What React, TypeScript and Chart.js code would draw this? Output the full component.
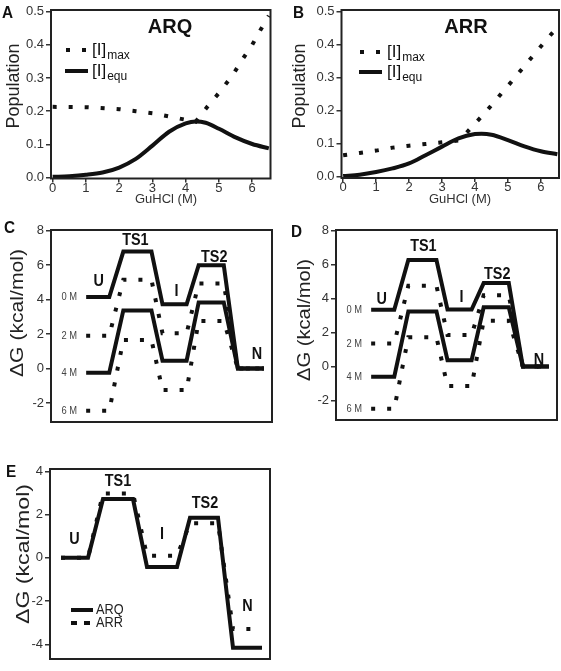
import React, { useEffect, useRef } from "react";
import { Chart, registerables } from "chart.js";
Chart.register(...registerables);

const F = "'Liberation Sans', Arial, Helvetica, sans-serif";
const INK = "#111";
const TXT = "#333";

// ---------- Panels A & B : population vs GuHCl ----------
const guhclTicks = [0, 1, 2, 3, 4, 5, 6];
const popTicks = [0, 0.1, 0.2, 0.3, 0.4, 0.5];

const arqMaxX = [0, 1, 2, 2.5, 3, 3.5, 4, 4.3, 4.65, 5, 5.4, 5.7, 6, 6.25, 6.5];
const arqMaxY = [0.213, 0.212, 0.206, 0.2, 0.194, 0.184, 0.174, 0.168, 0.213, 0.255, 0.307, 0.355, 0.4, 0.445, 0.488];
const arqEquX = [0, 0.5, 1, 1.5, 2, 2.5, 3, 3.5, 4, 4.3, 4.6, 5, 5.5, 6, 6.5];
const arqEquY = [0.002, 0.004, 0.008, 0.015, 0.03, 0.056, 0.096, 0.138, 0.163, 0.169, 0.165, 0.147, 0.121, 0.101, 0.088];

const arrMaxX = [0, 0.5, 1, 1.5, 2, 2.5, 3, 3.54, 3.9, 4.3, 4.7, 5.1, 5.5, 5.9, 6.3, 6.5];
const arrMaxY = [0.065, 0.072, 0.079, 0.088, 0.094, 0.099, 0.104, 0.11, 0.15, 0.193, 0.24, 0.287, 0.335, 0.383, 0.43, 0.452];
const arrEquX = [0, 0.5, 1, 1.5, 2, 2.5, 3, 3.5, 4, 4.2, 4.5, 5, 5.5, 6, 6.5];
const arrEquY = [0.002, 0.006, 0.014, 0.025, 0.04, 0.065, 0.091, 0.116, 0.129, 0.13, 0.127, 0.111, 0.092, 0.077, 0.068];

// ---------- Panels C, D, E : free-energy profiles ----------
const states = ["U", "TS1", "I", "TS2", "N"];
const denaturant = ["0 M", "2 M", "4 M", "6 M"];
// reaction coordinate: start/end of each state plateau
const rxnCD = [3.5, 5.8, 7.2, 10.0, 11.1, 13.5, 14.7, 17.2, 18.6, 21.2];
const rxnE = [1.1, 3.8, 5.3, 8.3, 9.7, 12.7, 14.0, 16.8, 18.3, 21.2];

const arq0M = [4.14, 6.78, 3.72, 5.99, 0];
const arq2M = [1.9, 5.15, 2.04, 4.93, 0];
const arq4M = [-0.24, 3.37, 0.45, 3.83, 0];
const arq6M = [-2.45, 1.66, -1.25, 2.76, 0];

const arr0M = [3.35, 6.28, 3.36, 4.92, 0];
const arr2M = [1.36, 4.76, 1.86, 4.2, 0];
const arr4M = [-0.6, 3.25, 0.37, 3.49, 0];
const arr6M = [-2.49, 1.73, -1.15, 2.7, 0];

const dGarq = [0, 2.72, -0.42, 1.86, -4.16];
const dGarr = [0, 2.98, 0.1, 1.6, -3.29];

const dGTicksCD = [-2, 0, 2, 4, 6, 8];
const dGTicksE = [-4, -2, 0, 2, 4];

// ---------- helpers ----------
const pairs = (xs: number[], ys: number[]) => xs.map((x, i) => ({ x, y: ys[i] }));
const expand = (rxn: number[], vals: number[]) =>
  vals.flatMap((v, i) => [{ x: rxn[2 * i], y: v }, { x: rxn[2 * i + 1], y: v }]);

const solid = (data: any[], extra: any = {}) => ({
  data, borderColor: INK, borderWidth: 4, pointRadius: 0, fill: false,
  borderCapStyle: "butt", borderJoinStyle: "miter", tension: 0, ...extra,
});
const dotted = (data: any[], extra: any = {}) =>
  solid(data, { borderDash: [4, 12], borderWidth: 4, ...extra });

type Txt = {
  t: string; px?: number; py?: number; x?: number; y?: number; dx?: number; dy?: number;
  font: string; align?: CanvasTextAlign; color?: string; sx?: number; rot?: boolean; len?: number;
  sub?: string; subFont?: string;
};
type Sample = { x0: number; x1: number; y: number; dash?: number[]; w?: number };

const annotPlugin = {
  id: "annot",
  afterDraw(chart: any, _a: any, opts: any) {
    const { ctx, chartArea: a } = chart;
    const ox = opts.ox || 0, oy = opts.oy || 0;
    ctx.save();
    ctx.strokeStyle = "#222";
    ctx.lineWidth = 2;
    ctx.setLineDash([]);
    ctx.strokeRect(a.left, a.top, a.right - a.left, a.bottom - a.top);
    (opts.samples || []).forEach((s: Sample) => {
      ctx.beginPath();
      ctx.strokeStyle = INK;
      ctx.lineWidth = s.w || 4;
      ctx.lineCap = "butt";
      ctx.setLineDash(s.dash || []);
      ctx.moveTo(s.x0 - ox, s.y - oy);
      ctx.lineTo(s.x1 - ox, s.y - oy);
      ctx.stroke();
    });
    ctx.setLineDash([]);
    (opts.texts || []).forEach((it: Txt) => {
      let X: number, Y: number;
      if (it.x !== undefined) {
        X = chart.scales.x.getPixelForValue(it.x) + (it.dx || 0);
        Y = chart.scales.y.getPixelForValue(it.y) + (it.dy || 0);
      } else {
        X = (it.px as number) - ox;
        Y = (it.py as number) - oy;
      }
      ctx.save();
      ctx.translate(X, Y);
      if (it.rot) ctx.rotate(-Math.PI / 2);
      ctx.font = it.font;
      ctx.fillStyle = it.color || TXT;
      ctx.textBaseline = "middle";
      let sx = it.sx ?? 1;
      if (it.len) sx = it.len / ctx.measureText(it.t).width;
      ctx.scale(sx, 1);
      ctx.textAlign = it.align || "center";
      ctx.fillText(it.t, 0, 0);
      if (it.sub) {
        const w = ctx.measureText(it.t).width;
        ctx.font = it.subFont || it.font;
        ctx.textAlign = "left";
        ctx.fillText(it.sub, w + 1, 6);
      }
      ctx.restore();
    });
    ctx.restore();
  },
};

type Spec = {
  id: string;
  box: { left: number; top: number; width: number; height: number };
  plot: [number, number, number, number];
  xRange: [number, number];
  yRange: [number, number];
  xTicks?: number[];
  yTicks: number[];
  yFmt: (v: number) => string;
  yFont: number;
  datasets: any[];
  texts: Txt[];
  samples: Sample[];
};

function buildConfig(s: Spec): any {
  const { box, plot } = s;
  const [pl, pt, pr, pb] = plot;
  const showX = !!s.xTicks;
  return {
    type: "line",
    data: { datasets: s.datasets },
    options: {
      responsive: false,
      animation: false,
      devicePixelRatio: 1,
      layout: {
        padding: {
          left: 0,
          top: pt - box.top,
          right: box.left + box.width - pr,
          bottom: showX ? 0 : box.top + box.height - pb,
        },
      },
      plugins: {
        legend: { display: false },
        tooltip: { enabled: false },
        annot: { ox: box.left, oy: box.top, texts: s.texts, samples: s.samples },
      },
      scales: {
        x: {
          type: "linear",
          display: showX,
          min: s.xRange[0],
          max: s.xRange[1],
          afterBuildTicks: (sc: any) => { if (s.xTicks) sc.ticks = s.xTicks.map((v) => ({ value: v })); },
          afterFit: (sc: any) => { sc.height = box.top + box.height - pb; },
          ticks: { font: { family: F, size: 13 }, color: TXT, padding: -2, maxRotation: 0, autoSkip: false, callback: (v: any) => String(v) },
          grid: { display: true, drawOnChartArea: false, drawTicks: true, tickLength: 4, color: "#333", lineWidth: 1.5 },
          border: { display: false },
        },
        y: {
          type: "linear",
          min: s.yRange[0],
          max: s.yRange[1],
          afterBuildTicks: (sc: any) => { sc.ticks = s.yTicks.map((v) => ({ value: v })); },
          afterFit: (sc: any) => { sc.width = pl - box.left; },
          ticks: { font: { family: F, size: s.yFont }, color: TXT, padding: 2, autoSkip: false, callback: (v: any) => s.yFmt(Number(v)) },
          grid: { display: true, drawOnChartArea: false, drawTicks: true, tickLength: 5, color: "#333", lineWidth: 1.5 },
          border: { display: false },
        },
      },
    },
    plugins: [annotPlugin],
  };
}

const popFmt = (v: number) => v.toFixed(1);
const intFmt = (v: number) => String(Math.round(v));

function energyTexts(rxn: number[], profiles: number[][], labelsDenat: boolean, dx: number[], dy: number[]): Txt[] {
  const out: Txt[] = [];
  states.forEach((st, i) => {
    out.push({
      t: st,
      x: (rxn[2 * i] + rxn[2 * i + 1]) / 2,
      y: Math.max(...profiles.map((p) => p[i])),
      dx: dx[i], dy: dy[i],
      font: `bold 16px ${F}`, color: INK, sx: 0.9,
    });
  });
  if (labelsDenat) {
    denaturant.forEach((d, i) => {
      out.push({ t: d, x: rxn[0], y: profiles[i][0], dx: -9, dy: 0, font: `11px ${F}`, align: "right", color: "#444", sx: 0.85 });
    });
  }
  return out;
}

const specs: Spec[] = [
  {
    id: "A",
    box: { left: 0, top: 0, width: 280, height: 215 },
    plot: [51, 10, 270.5, 178.5],
    xRange: [-0.05, 6.55],
    yRange: [-0.003, 0.505],
    xTicks: guhclTicks,
    yTicks: popTicks,
    yFmt: popFmt,
    yFont: 13,
    datasets: [
      solid(pairs(arqEquX, arqEquY), { cubicInterpolationMode: "monotone" }),
      dotted(pairs(arqMaxX, arqMaxY)),
    ],
    texts: [
      { t: "A", px: 2, py: 13, font: `bold 17px ${F}`, align: "left", color: INK, sx: 0.9 },
      { t: "ARQ", px: 170, py: 27, font: `bold 20px ${F}`, color: INK },
      { t: "[I]", sub: "max", px: 92, py: 50, font: `17px ${F}`, subFont: `12px ${F}`, align: "left", color: INK },
      { t: "[I]", sub: "equ", px: 92, py: 71, font: `17px ${F}`, subFont: `12px ${F}`, align: "left", color: INK },
      { t: "Population", px: 14, py: 86, rot: true, font: `18px ${F}`, color: "#222" },
      { t: "GuHCl (M)", px: 166, py: 199, font: `13px ${F}`, color: TXT },
    ],
    samples: [
      { x0: 66, x1: 88, y: 50, dash: [4, 12] },
      { x0: 65, x1: 88, y: 71 },
    ],
  },
  {
    id: "B",
    box: { left: 280, top: 0, width: 281, height: 215 },
    plot: [341.5, 10, 559, 178],
    xRange: [-0.05, 6.55],
    yRange: [-0.004, 0.505],
    xTicks: guhclTicks,
    yTicks: popTicks,
    yFmt: popFmt,
    yFont: 13,
    datasets: [
      solid(pairs(arrEquX, arrEquY), { cubicInterpolationMode: "monotone" }),
      dotted(pairs(arrMaxX, arrMaxY)),
    ],
    texts: [
      { t: "B", px: 293, py: 13, font: `bold 17px ${F}`, align: "left", color: INK, sx: 0.9 },
      { t: "ARR", px: 466, py: 27, font: `bold 20px ${F}`, color: INK },
      { t: "[I]", sub: "max", px: 387, py: 52, font: `17px ${F}`, subFont: `12px ${F}`, align: "left", color: INK },
      { t: "[I]", sub: "equ", px: 387, py: 72, font: `17px ${F}`, subFont: `12px ${F}`, align: "left", color: INK },
      { t: "Population", px: 300, py: 86, rot: true, font: `18px ${F}`, color: "#222" },
      { t: "GuHCl (M)", px: 460, py: 199, font: `13px ${F}`, color: TXT },
    ],
    samples: [
      { x0: 360, x1: 382, y: 52, dash: [4, 12] },
      { x0: 359, x1: 382, y: 72 },
    ],
  },
  {
    id: "C",
    box: { left: 0, top: 215, width: 280, height: 225 },
    plot: [51, 230, 272, 431],
    xRange: [0, 22],
    yRange: [-3.1, 8.03],
    yTicks: dGTicksCD,
    yFmt: intFmt,
    yFont: 13,
    datasets: [
      solid(expand(rxnCD, arq0M)),
      dotted(expand(rxnCD, arq2M)),
      solid(expand(rxnCD, arq4M)),
      dotted(expand(rxnCD, arq6M)),
    ],
    texts: [
      { t: "C", px: 4, py: 228, font: `bold 17px ${F}`, align: "left", color: INK, sx: 0.9 },
      { t: "\u0394G (kcal/mol)", px: 18, py: 313, rot: true, len: 128, font: `18px ${F}`, color: "#222" },
      ...energyTexts(rxnCD, [arq0M, arq2M, arq4M, arq6M], true, [1, -2, 2, 3, 6], [-16, -11, -13, -8, -14]),
    ],
    samples: [],
  },
  {
    id: "D",
    box: { left: 280, top: 215, width: 281, height: 225 },
    plot: [336, 230, 557, 430],
    xRange: [0, 22],
    yRange: [-3.15, 8.05],
    yTicks: dGTicksCD,
    yFmt: intFmt,
    yFont: 13,
    datasets: [
      solid(expand(rxnCD, arr0M)),
      dotted(expand(rxnCD, arr2M)),
      solid(expand(rxnCD, arr4M)),
      dotted(expand(rxnCD, arr6M)),
    ],
    texts: [
      { t: "D", px: 291, py: 232, font: `bold 17px ${F}`, align: "left", color: INK, sx: 0.9 },
      { t: "\u0394G (kcal/mol)", px: 305, py: 320, rot: true, len: 122, font: `18px ${F}`, color: "#222" },
      ...energyTexts(rxnCD, [arr0M, arr2M, arr4M, arr6M], true, [-1, 1, 2, 1, 3], [-10, -13, -12, -9, -6]),
    ],
    samples: [],
  },
  {
    id: "E",
    box: { left: 0, top: 455, width: 280, height: 216 },
    plot: [50, 469, 270, 665],
    xRange: [0, 22],
    yRange: [-4.68, 4.11],
    yTicks: dGTicksE,
    yFmt: intFmt,
    yFont: 13,
    datasets: [
      dotted(expand(rxnE, dGarr), { borderWidth: 4 }),
      solid(expand(rxnE, dGarq)),
    ],
    texts: [
      { t: "E", px: 6, py: 472, font: `bold 17px ${F}`, align: "left", color: INK, sx: 0.9 },
      { t: "\u0394G (kcal/mol)", px: 24, py: 554, rot: true, len: 140, font: `18px ${F}`, color: "#222" },
      ...energyTexts(rxnE, [dGarq, dGarr], false, [0, 0, 0, 1, 0], [-18, -12, -21, -14, -22]),
      { t: "ARQ", px: 96, py: 610, font: `15px ${F}`, align: "left", color: "#222", sx: 0.85 },
      { t: "ARR", px: 96, py: 623, font: `15px ${F}`, align: "left", color: "#222", sx: 0.85 },
    ],
    samples: [
      { x0: 71, x1: 93, y: 610 },
      { x0: 71, x1: 93, y: 623, dash: [6, 7] },
    ],
  },
];

function Panel({ spec }: { spec: Spec }) {
  const ref = useRef<HTMLCanvasElement>(null);
  useEffect(() => {
    const chart = new Chart(ref.current as HTMLCanvasElement, buildConfig(spec));
    return () => chart.destroy();
  }, [spec]);
  const b = spec.box;
  return (
    <canvas
      ref={ref}
      width={b.width}
      height={b.height}
      style={{ position: "absolute", left: b.left, top: b.top, width: b.width, height: b.height }}
    />
  );
}

export default function App() {
  return (
    <div style={{ position: "fixed", left: 0, top: 0, width: 561, height: 671, background: "#fff", overflow: "hidden" }}>
      {specs.map((s) => (
        <Panel key={s.id} spec={s} />
      ))}
    </div>
  );
}
